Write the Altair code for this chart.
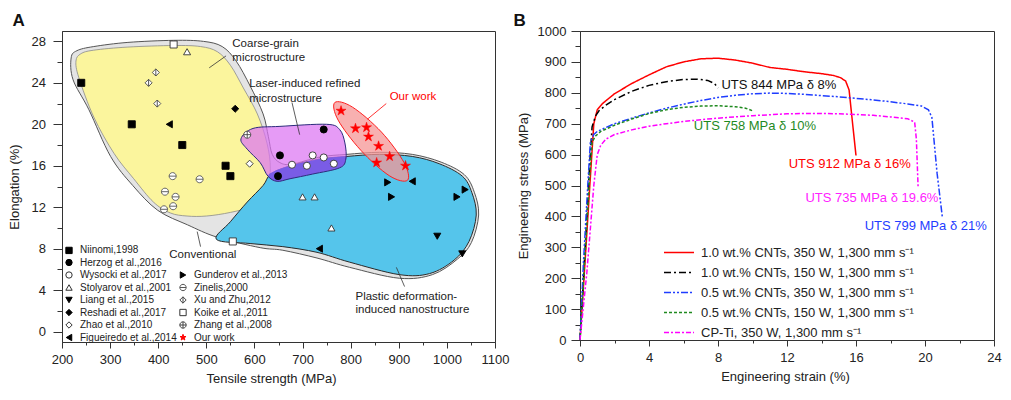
import altair as alt
import pandas as pd

FONT = "Liberation Sans, Arial, Helvetica, sans-serif"

# ---------------- Panel A : literature data (tensile strength MPa, elongation %) ----------------
niinomi_x = [240, 345, 450, 540, 550]
niinomi_y = [24.0, 20.0, 18.0, 16.0, 15.0]
herzog_x = [744, 653, 649]
herzog_y = [19.5, 17.0, 15.0]
wysocki_x = [678, 709, 721, 744, 765]
wysocki_y = [16.1, 16.0, 17.0, 16.8, 16.2]
stolyarov_x = [460, 700, 725, 760]
stolyarov_y = [27.0, 13.0, 13.0, 10.0]
liang_x = [980, 1032]
liang_y = [9.2, 7.5]
reshadi_x = [560]
reshadi_y = [21.5]
zhao_x = [590]
zhao_y = [16.2]
figueiredo_x = [423, 735, 928]
figueiredo_y = [20.0, 8.0, 14.5]
gunderov_x = [877, 885, 1021, 1038]
gunderov_y = [14.4, 13.0, 13.0, 13.7]
zinelis_x = [430, 486, 414, 436, 431, 412]
zinelis_y = [15.0, 14.7, 13.5, 13.0, 12.1, 11.8]
xuzhu_x = [395, 380, 398]
xuzhu_y = [25.0, 24.0, 22.0]
koike_x = [432, 555]
koike_y = [27.7, 8.7]
zhang_x = [585]
zhang_y = [19.0]
ourwork_x = [780, 810, 833, 837, 858, 881, 854, 914]
ourwork_y = [21.3, 19.6, 19.7, 18.8, 17.9, 16.9, 16.3, 16.0]

# legend order (two columns, filled column by column); "_b" entries are empty slots
legend_names = ["Niinomi,1998", "Herzog et al.,2016", "Wysocki et al.,2017", "Stolyarov et al.,2001",
                "Liang et al.,2015", "Reshadi et al.,2017", "Zhao et al.,2010", "Figueiredo et al.,2014",
                "_b1", "_b2", "Gunderov et al.,2013", "Zinelis,2000", "Xu and Zhu,2012",
                "Koike et al.,2011", "Zhang et al.,2008", "Our work"]

CIRC_LINE = "M-1,0A1,1,0,1,1,1,0A1,1,0,1,1,-1,0ZM-1,0L1,0"
DIAM_VLINE = "M0,-1L1,0L0,1L-1,0ZM0,-1L0,1"
CIRC_PLUS = "M-1,0A1,1,0,1,1,1,0A1,1,0,1,1,-1,0ZM-1,0L1,0M0,-1L0,1"
STAR = ("M0,-1L0.225,-0.309L0.951,-0.309L0.363,0.118L0.588,0.809L0,0.382"
        "L-0.588,0.809L-0.363,0.118L-0.951,-0.309L-0.225,-0.309Z")
legend_shapes = ["square", "circle", "circle", "triangle-up", "triangle-down", "diamond", "diamond",
                 "triangle-left", "M0,0", "M0,0", "triangle-right", CIRC_LINE, DIAM_VLINE, "square",
                 CIRC_PLUS, STAR]
legend_fills = ["#000", "#000", "#fff", "#fff", "#000", "#000", "#fff", "#000",
                "transparent", "transparent", "#000", "#fff", "#fff", "#fff", "#fff", "#ff0000"]
legend_strokes = ["#000", "#000", "#333", "#333", "#000", "#000", "#333", "#000",
                  "transparent", "transparent", "#000", "#555", "#444", "#333", "#444", "#ff0000"]

# ---------------- Panel A : region outlines (data units) ----------------
conv_x = [219, 231, 266, 337, 432, 494, 533, 562, 591, 618, 629, 637, 653, 678, 736, 792, 860, 928,
          988, 1036, 1057, 1066, 1051, 1022, 970, 901, 798, 730, 659, 612, 523, 461, 399, 347, 301, 256, 223]
conv_y = [26.4, 27.1, 27.5, 27.9, 28.1, 28.0, 27.5, 26.1, 23.7, 21.0, 18.8, 17.1, 16.3, 16.15, 16.85, 17.1,
          17.3, 17.1, 16.35, 15.15, 13.45, 11.25, 8.6, 7.0, 5.5, 5.15, 6.2, 7.1, 7.85, 8.1, 9.1, 10.3, 11.7,
          14.1, 16.9, 21.4, 24.3]
coarse_x = [229, 239, 266, 337, 432, 488, 523, 550, 577, 606, 626, 633, 624, 595, 550, 500, 460, 425,
            390, 349, 308, 266, 235]
coarse_y = [26.1, 26.8, 27.15, 27.45, 27.6, 27.5, 27.0, 25.7, 23.5, 21.0, 18.2, 15.7, 13.3, 12.1, 11.5,
            11.15, 11.15, 11.45, 12.5, 14.75, 17.2, 20.7, 24.5]
plastic_x = [521, 550, 585, 618, 634, 674, 736, 792, 860, 928, 984, 1032, 1052, 1061, 1046, 1015, 964,
             901, 798, 730, 659, 591]
plastic_y = [8.9, 10.6, 12.5, 14.1, 15.2, 16.0, 16.65, 16.9, 17.1, 16.9, 16.2, 15.0, 13.4, 11.25, 8.7,
             6.9, 5.6, 5.5, 6.7, 7.65, 8.2, 8.5]
laser_x = [572, 597, 653, 750, 777, 788, 790, 777, 721, 674, 647, 628, 612, 585]
laser_y = [18.6, 19.6, 19.8, 20.0, 19.5, 18.2, 16.65, 15.8, 15.2, 14.75, 14.5, 15.0, 16.3, 17.6]
overlap_x = [629, 640, 674, 736, 786, 790, 777, 721, 674, 647]
overlap_y = [15.0, 15.45, 16.0, 16.65, 16.9, 16.6, 15.8, 15.2, 14.75, 14.5]
ours_x = [767, 804, 864, 911, 918, 880, 821, 774]
ours_y = [22.1, 21.65, 19.25, 16.3, 14.6, 15.05, 17.5, 20.4]

# annotations in panel A
ann_text = ["Coarse-grain", "microstructure", "Laser-induced refined", "microstructure",
            "Our work", "Conventional", "Plastic deformation-", "induced nanostructure"]
ann_x = [554, 554, 589, 589, 881, 423, 810, 810]
ann_y = [27.7, 26.4, 23.85, 22.4, 22.6, 7.4, 3.3, 2.05]
ann_color = ["#222", "#222", "#222", "#222", "#ff0000", "#222", "#222", "#222"]
ptr_x = [541, 678, 874, 481, 895]
ptr_y = [26.6, 22.1, 22.0, 9.65, 6.2]
ptr_x2 = [506, 694, 835, 488, 912]
ptr_y2 = [25.45, 19.0, 20.5, 8.2, 4.35]
ptr_color = ["#333", "#333", "#ff0000", "#333", "#333"]

# ---------------- Panel B : stress-strain curves ----------------
series_names = ["1.0 wt.% CNTs, 350 W, 1,300 mm s\u207b\u00b9",
                "1.0 wt.% CNTs, 150 W, 1,300 mm s\u207b\u00b9",
                "0.5 wt.% CNTs, 350 W, 1,300 mm s\u207b\u00b9",
                "0.5 wt.% CNTs, 150 W, 1,300 mm s\u207b\u00b9",
                "CP-Ti, 350 W, 1,300 mm s\u207b\u00b9"]
series_colors = ["#ff0000", "#000000", "#1f3dff", "#1f8a1f", "#ff00ff"]
series_dash = [[1, 0], [7, 3, 2, 3], [7, 2, 2, 2, 2, 2], [3, 2], [5, 2, 2, 2]]

red_x = [0, 0.3, 0.57, 0.8, 1.0, 1.3, 2.0, 3.0, 4.0, 5.0, 6.0, 7.0, 8.0, 9.0, 10.0, 11.0, 12.0, 13.0,
         14.0, 14.7, 15.1, 15.4, 15.6, 15.8, 16.0]
red_y = [0, 260, 500, 700, 745, 765, 797, 830, 858, 884, 900, 910, 912, 906, 896, 882, 876, 868,
         862, 856, 849, 838, 809, 702, 597]
black_x = [0, 0.3, 0.55, 0.7, 0.9, 1.1, 1.5, 2.0, 3.0, 4.0, 5.0, 6.0, 6.8, 7.4, 7.8, 8.0]
black_y = [0, 300, 560, 690, 725, 742, 760, 778, 805, 824, 836, 843, 844, 840, 830, 815]
blue_x = [0, 0.2, 0.45, 0.6, 0.8, 1.0, 2.0, 3.0, 4.0, 5.0, 6.0, 7.0, 8.0, 9.0, 10.0, 11.0, 12.0, 13.0,
          14.0, 15.0, 16.0, 17.0, 18.0, 19.0, 19.8, 20.2, 20.4, 20.7, 21.0]
blue_y = [0, 250, 500, 640, 665, 675, 700, 718, 735, 750, 763, 775, 785, 792, 797, 799, 798, 795,
          791, 787, 782, 777, 771, 764, 757, 745, 720, 540, 400]
green_x = [0, 0.3, 0.55, 0.7, 0.9, 1.2, 2.0, 3.0, 4.0, 5.0, 6.0, 7.0, 8.0, 9.0, 9.6, 10.0]
green_y = [0, 280, 520, 640, 660, 675, 695, 715, 733, 745, 753, 757, 758, 755, 750, 742]
magenta_x = [0, 0.4, 0.8, 1.0, 1.2, 1.5, 2.0, 3.0, 4.0, 5.0, 6.0, 7.0, 8.0, 9.0, 10.0, 11.0, 12.0,
             13.0, 14.0, 15.0, 16.0, 17.0, 18.0, 19.0, 19.4, 19.5, 19.6]
magenta_y = [0, 220, 500, 600, 630, 650, 665, 680, 692, 700, 707, 713, 718, 722, 726, 729, 732,
             733, 733, 732, 730, 727, 722, 716, 705, 650, 495]

uts_text = ["UTS 844 MPa \u03b4 8%", "UTS 758 MPa \u03b4 10%", "UTS 912 MPa \u03b4 16%",
            "UTS 735 MPa \u03b4 19.6%", "UTS 799 MPa \u03b4 21%"]
uts_x = [8.2, 6.6, 12.1, 13.07, 16.5]
uts_y = [825, 692, 568, 460, 368]
uts_color = ["#111111", "#1f8a1f", "#ff0000", "#ff22ff", "#1f3dff"]

# ================= build panel A =================
study_lists = [("Niinomi,1998", niinomi_x, niinomi_y), ("Herzog et al.,2016", herzog_x, herzog_y),
               ("Wysocki et al.,2017", wysocki_x, wysocki_y), ("Stolyarov et al.,2001", stolyarov_x, stolyarov_y),
               ("Liang et al.,2015", liang_x, liang_y), ("Reshadi et al.,2017", reshadi_x, reshadi_y),
               ("Zhao et al.,2010", zhao_x, zhao_y), ("Figueiredo et al.,2014", figueiredo_x, figueiredo_y),
               ("Gunderov et al.,2013", gunderov_x, gunderov_y), ("Zinelis,2000", zinelis_x, zinelis_y),
               ("Xu and Zhu,2012", xuzhu_x, xuzhu_y), ("Koike et al.,2011", koike_x, koike_y),
               ("Zhang et al.,2008", zhang_x, zhang_y)]
rows = []
for name, xs, ys in study_lists:
    rows += [{"study": name, "x": a, "y": b} for a, b in zip(xs, ys)]
pts_df = pd.DataFrame(rows)
star_df = pd.DataFrame({"study": ["Our work"] * len(ourwork_x), "x": ourwork_x, "y": ourwork_y})

axis_xA = alt.Axis(values=list(range(200, 1101, 50)), format="d",
                   labelExpr="datum.value % 100 == 0 ? datum.label : ''",
                   tickSize={"condition": {"test": "datum.value % 100 == 0", "value": 6}, "value": 3},
                   labelFlush=False, labelOverlap=False, grid=False, labelPadding=5,
                   title="Tensile strength (MPa)", titlePadding=6, titleX=209)
axis_yA = alt.Axis(values=list(range(0, 29, 2)), format="d",
                   labelExpr="datum.value % 4 == 0 ? datum.label : ''",
                   tickSize={"condition": {"test": "datum.value % 4 == 0", "value": 9}, "value": 5},
                   labelFlush=False, labelOverlap=False, grid=False, labelPadding=7.5,
                   title="Elongation (%)", titlePadding=9.5)
scale_xA = alt.Scale(domain=[200, 1100], nice=False, zero=False)
scale_yA = alt.Scale(domain=[-1, 29], nice=False, zero=False)


def xa(field="x"):
    return alt.X(f"{field}:Q", scale=scale_xA, axis=axis_xA)


def ya(field="y"):
    return alt.Y(f"{field}:Q", scale=scale_yA, axis=axis_yA)


def region(xs, ys, **mark):
    df = pd.DataFrame({"x": xs, "y": ys, "ord": list(range(len(xs)))})
    return alt.Chart(df).mark_line(interpolate="cardinal-closed", **mark).encode(
        x=xa(), y=ya(), order="ord:Q")


conv = region(conv_x, conv_y, fill="#e4e4e4", stroke="#555555", strokeWidth=1)
coarse = region(coarse_x, coarse_y, fill="#fbf59d", stroke="#8a8a8a", strokeWidth=0.8)
plastic = region(plastic_x, plastic_y, fill="#55c5eb", stroke="#2b2b2b", strokeWidth=1)
laser_fill = region(laser_x, laser_y, fill="#dc74f2", fillOpacity=0.72, strokeOpacity=0)
overlap = region(overlap_x, overlap_y, fill="#7a5ce6", strokeOpacity=0)
laser_line = region(laser_x, laser_y, fill="transparent", stroke="#2c2c7c", strokeWidth=1)
ours = region(ours_x, ours_y, fill="#f59696", fillOpacity=0.75, stroke="#ff2020", strokeWidth=1)

ptr_df = pd.DataFrame({"x": ptr_x, "y": ptr_y, "x2": ptr_x2, "y2": ptr_y2, "c": ptr_color})
pointers = alt.Chart(ptr_df).mark_rule(strokeWidth=0.8).encode(
    x=xa(), y=ya(), x2="x2:Q", y2="y2:Q", color=alt.Color("c:N", scale=None))

ann_df = pd.DataFrame({"x": ann_x, "y": ann_y, "t": ann_text, "c": ann_color})
ann = alt.Chart(ann_df).mark_text(align="left", baseline="middle", fontSize=11.5, font=FONT).encode(
    x=xa(), y=ya(), text="t:N", color=alt.Color("c:N", scale=None))

legA = alt.Legend(title=None, orient="none", legendX=2, legendY=214, columns=2, columnPadding=0,
                  rowPadding=0.5, labelFontSize=10, labelOffset=6, symbolSize=40,
                  symbolStrokeWidth=1, padding=0, labelColor="#222",
                  labelExpr="indexof(datum.label, '_b') == 0 ? '' : datum.label")
shp = alt.Shape("study:N", scale=alt.Scale(domain=legend_names, range=legend_shapes), legend=legA)
fll = alt.Fill("study:N", scale=alt.Scale(domain=legend_names, range=legend_fills), legend=legA)
stk = alt.Stroke("study:N", scale=alt.Scale(domain=legend_names, range=legend_strokes), legend=legA)

points = alt.Chart(pts_df).mark_point(opacity=1, strokeWidth=0.9, size=50).encode(
    x=xa(), y=ya(), shape=shp, fill=fll, stroke=stk)
stars = alt.Chart(star_df).mark_point(opacity=1, strokeWidth=0.5, size=110).encode(
    x=xa(), y=ya(), shape=shp, fill=fll, stroke=stk)

panelA = alt.layer(conv, coarse, plastic, laser_fill, overlap, laser_line, ours, pointers, ann,
                   points, stars).properties(
    width=433, height=311,
    title=alt.TitleParams("A", anchor="start", frame="bounds", fontSize=17, fontWeight="bold",
                          offset=1, dx=4, color="#111"))

# ================= build panel B =================
curve_rows = []
for name, xs, ys in zip(series_names, [red_x, black_x, blue_x, green_x, magenta_x],
                        [red_y, black_y, blue_y, green_y, magenta_y]):
    curve_rows += [{"series": name, "x": a, "y": b, "ord": i} for i, (a, b) in enumerate(zip(xs, ys))]
curve_df = pd.DataFrame(curve_rows)

axis_xB = alt.Axis(values=list(range(0, 25, 2)), format="d",
                   labelExpr="datum.value % 4 == 0 ? datum.label : ''",
                   tickSize={"condition": {"test": "datum.value % 4 == 0", "value": 6}, "value": 3},
                   labelFlush=False, labelOverlap=False, grid=False, labelPadding=5,
                   title="Engineering strain (%)", titlePadding=6, titleX=205)
axis_yB = alt.Axis(values=list(range(0, 1001, 50)), format="d",
                   labelExpr="datum.value % 100 == 0 ? datum.label : ''",
                   tickSize={"condition": {"test": "datum.value % 100 == 0", "value": 9}, "value": 5},
                   labelFlush=False, labelOverlap=False, grid=False, labelPadding=5,
                   title="Engineering stress (MPa)", titlePadding=6.6)
scale_xB = alt.Scale(domain=[0, 24], nice=False, zero=False)
scale_yB = alt.Scale(domain=[0, 1000], nice=False, zero=False)

legB = alt.Legend(title=None, orient="none", legendX=610.5, legendY=215, symbolType="M-3,0L3,0",
                  symbolSize=100, symbolStrokeWidth=1.5, labelFontSize=13, labelOffset=15.5,
                  rowPadding=6, padding=0, labelLimit=400, labelColor="#222")
curves = alt.Chart(curve_df).mark_line(strokeWidth=1.5).encode(
    x=alt.X("x:Q", scale=scale_xB, axis=axis_xB),
    y=alt.Y("y:Q", scale=scale_yB, axis=axis_yB),
    order="ord:Q",
    color=alt.Color("series:N", scale=alt.Scale(domain=series_names, range=series_colors), legend=legB),
    strokeDash=alt.StrokeDash("series:N", scale=alt.Scale(domain=series_names, range=series_dash),
                              legend=legB))

uts_df = pd.DataFrame({"x": uts_x, "y": uts_y, "t": uts_text, "c": uts_color})
uts = alt.Chart(uts_df).mark_text(align="left", baseline="middle", fontSize=13, font=FONT).encode(
    x=alt.X("x:Q", scale=scale_xB, axis=axis_xB),
    y=alt.Y("y:Q", scale=scale_yB, axis=axis_yB),
    text="t:N", color=alt.Color("c:N", scale=None))

panelB = alt.layer(curves, uts).properties(
    width=414, height=309,
    title=alt.TitleParams("B", anchor="start", frame="bounds", fontSize=17, fontWeight="bold",
                          offset=-4.5, dx=-4, color="#111"))

chart = alt.hconcat(panelA, panelB, spacing=2).properties(
    padding={"left": 0, "top": 3, "right": 0, "bottom": 0}
).configure(font=FONT).configure_view(stroke="#333333", strokeWidth=1).configure_axis(
    labelFont=FONT, titleFont=FONT, labelFontSize=13, titleFontSize=13, titleFontWeight="normal",
    labelColor="#222", titleColor="#222", domainColor="#333", tickColor="#333", tickWidth=1
).configure_legend(labelFont=FONT)

chart.save("out.html", embed_options={"renderer": "svg", "actions": False})
